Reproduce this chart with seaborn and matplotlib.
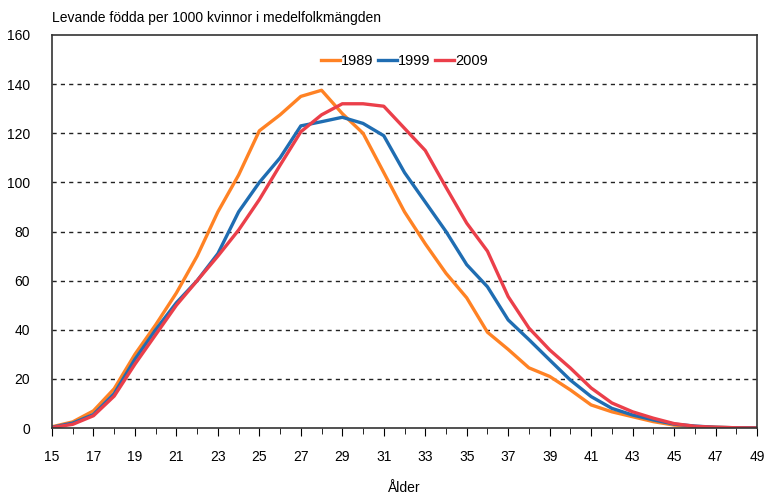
import numpy as np
import pandas as pd
import seaborn as sns
import matplotlib.pyplot as plt
from matplotlib.ticker import MultipleLocator

# ages and fertility rates (births per 1000 women)
ages = list(range(15, 50))
rate_1989 = [0.5, 2.5, 7, 16, 30, 42, 55, 70, 88, 103, 121, 127.5, 135, 137.5, 128,
             120, 104, 88, 75, 63, 53, 39, 32, 24.5, 21, 15.5, 9.4, 6.6, 4.6, 2.6,
             1.2, 0.6, 0.3, 0.1, 0.05]
rate_1999 = [0.3, 2, 5.5, 14, 28, 40, 51, 60, 71, 88, 100, 110, 123, 124.7, 126.5,
             124, 119, 104, 92, 80, 66.5, 57.5, 44, 36, 27.7, 19.5, 12.8, 8, 5.3, 3.3,
             1.6, 0.8, 0.3, 0.1, 0.05]
rate_2009 = [0.2, 1.5, 5, 13, 26, 38, 50, 60, 70, 80.6, 93, 107, 120.6, 127.5, 132,
             132, 131, 122, 113, 98, 83.4, 72, 53.5, 40.7, 31.8, 24.4, 16.3, 10.2, 6.6, 4,
             1.8, 0.7, 0.3, 0.1, 0.0]
years = ['1989', '1999', '2009']
colors = ['#FF8224', '#1F6DB2', '#EB3F4A']
xticks = list(range(15, 50, 2))

df = pd.DataFrame({'age': ages * 3,
                   'rate': rate_1989 + rate_1999 + rate_2009,
                   'year': np.repeat(years, len(ages))})

plt.rcParams['font.family'] = ['Liberation Sans', 'DejaVu Sans']
fig = plt.figure(figsize=(7.68, 4.97), dpi=100)
ax = fig.add_axes([0.0677, 0.1388, 0.918, 0.7908])

sns.lineplot(data=df, x='age', y='rate', hue='year', palette=colors,
             linewidth=2.4, ax=ax)

ax.set_xlim(15, 49)
ax.set_ylim(0, 160)
ax.set_xticks(xticks)
ax.xaxis.set_minor_locator(MultipleLocator(1))
ax.yaxis.set_major_locator(MultipleLocator(20))
ax.tick_params(axis='x', which='major', length=6, direction='out', labelsize=10, pad=10)
ax.tick_params(axis='x', which='minor', length=4, direction='out')
ax.tick_params(axis='y', length=0, labelsize=10, pad=16)
for g in range(20, 160, 20):
    ax.axhline(g, color='#222222', linestyle=(0, (3, 3)), linewidth=1, zorder=0)
for s in ax.spines.values():
    s.set_color('#333333')
    s.set_linewidth(1.2)

ax.set_xlabel('Ålder', fontsize=10, labelpad=12)
ax.set_ylabel('')
fig.text(0.0677, 0.955, 'Levande födda per 1000 kvinnor i medelfolkmängden', fontsize=10)

ax.legend(loc='upper center', bbox_to_anchor=(0.5, 0.985), ncol=3, frameon=False,
          handlelength=1.3, handletextpad=0.1, columnspacing=0.3, fontsize=10.5)

fig.savefig('out.png', dpi=100)
